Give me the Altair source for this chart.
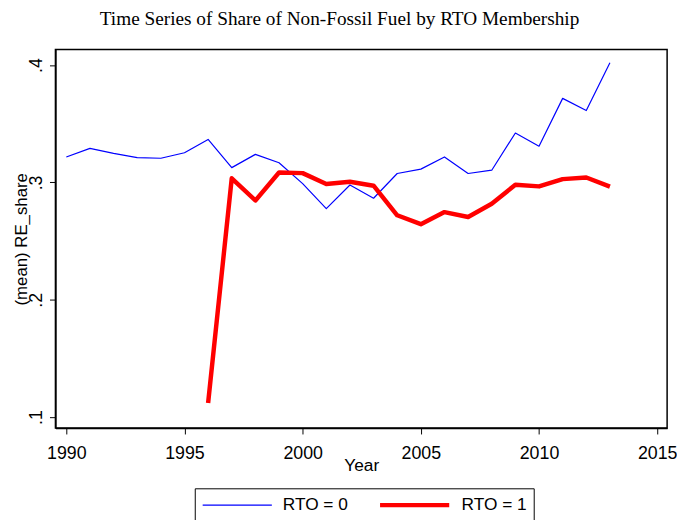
import altair as alt
import pandas as pd

# ---- data ----
years0 = list(range(1990, 2014))
share0 = [0.3217, 0.3290, 0.3248, 0.3211, 0.3206, 0.3253, 0.3366, 0.3126,
          0.3239, 0.3168, 0.2990, 0.2776, 0.2978, 0.2865, 0.3076, 0.3113,
          0.3217, 0.3076, 0.3104, 0.3421, 0.3309, 0.3716, 0.3612, 0.4020]
years1 = list(range(1996, 2014))
share1 = [0.1120, 0.3035, 0.2846, 0.3084, 0.3079, 0.2986, 0.3006, 0.2972,
          0.2720, 0.2644, 0.2747, 0.2705, 0.2818, 0.2980, 0.2966, 0.3028,
          0.3042, 0.2964]
groups = ["RTO = 0", "RTO = 1"]
x_ticks = [1990, 1995, 2000, 2005, 2010, 2015]
y_ticks = [0.1, 0.2, 0.3, 0.4]

df = pd.concat([
    pd.DataFrame({"Year": years0, "share": share0, "grp": groups[0]}),
    pd.DataFrame({"Year": years1, "share": share1, "grp": groups[1]}),
], ignore_index=True)

SANS = "Liberation Sans"
W, H = 619, 383

legend = alt.Legend(
    title=None, orient="none", legendX=141, legendY=444, direction="horizontal",
    strokeColor="black", padding=7, symbolType="stroke", symbolSize=4900,
    clipHeight=20, labelFont=SANS, labelFontSize=17.5, labelColor="black",
    columnPadding=30, labelOffset=10, labelLimit=300, fillColor="white",
)

chart = alt.Chart(df).mark_line(strokeJoin="round").encode(
    x=alt.X("Year:Q",
            scale=alt.Scale(domain=[1989.54, 2015.42], nice=False, zero=False),
            axis=alt.Axis(values=x_ticks, format="d", title="Year", grid=False,
                          tickSize=6, tickColor="black", domainColor="black",
                          domainWidth=1.5, labelFont=SANS, labelFontSize=18,
                          labelColor="black", labelBaseline="alphabetic",
                          labelPadding=25, labelFlush=False, labelOverlap=False,
                          titleFont=SANS, titleFontSize=17.5, titleFontWeight="normal",
                          titleColor="black", titleBaseline="alphabetic",
                          titleX=W / 2, titleY=43, titleAlign="center")),
    y=alt.Y("share:Q",
            scale=alt.Scale(domain=[0.0907, 0.4132], nice=False, zero=False),
            axis=alt.Axis(values=y_ticks,
                          labelExpr="replace(format(datum.value, '.1f'), '0.', '.')",
                          title="(mean) RE_share", grid=False, tickSize=6,
                          tickColor="black", domainColor="black", domainWidth=1.5,
                          labelAngle=270, labelAlign="center", labelBaseline="alphabetic",
                          labelPadding=8, labelFont=SANS, labelFontSize=18,
                          labelColor="black", labelFlush=False, labelOverlap=False,
                          titleFont=SANS, titleFontSize=17, titleFontWeight="normal",
                          titleColor="black", titleAngle=270, titleAlign="center",
                          titleBaseline="alphabetic", titleX=-29, titleY=H / 2)),
    color=alt.Color("grp:N", scale=alt.Scale(domain=groups, range=["#0000ff", "#ff0000"]),
                    legend=legend),
    strokeWidth=alt.StrokeWidth("grp:N", scale=alt.Scale(domain=groups, range=[1.2, 4.5]),
                                legend=legend),
).properties(
    width=W, height=H,
    autosize=alt.AutoSizeParams(type="none"),
    padding={"left": 48, "top": 39, "right": 10, "bottom": 90},
    title=alt.Title("Time Series of Share of Non-Fossil Fuel by RTO Membership",
                    font="Liberation Serif", fontSize=19.5, fontWeight="normal",
                    color="black", anchor="middle", frame="group", dx=-22, offset=20),
).configure_view(stroke="black", strokeWidth=1.5)

chart.save("out.html", embed_options={"renderer": "svg", "actions": False})
